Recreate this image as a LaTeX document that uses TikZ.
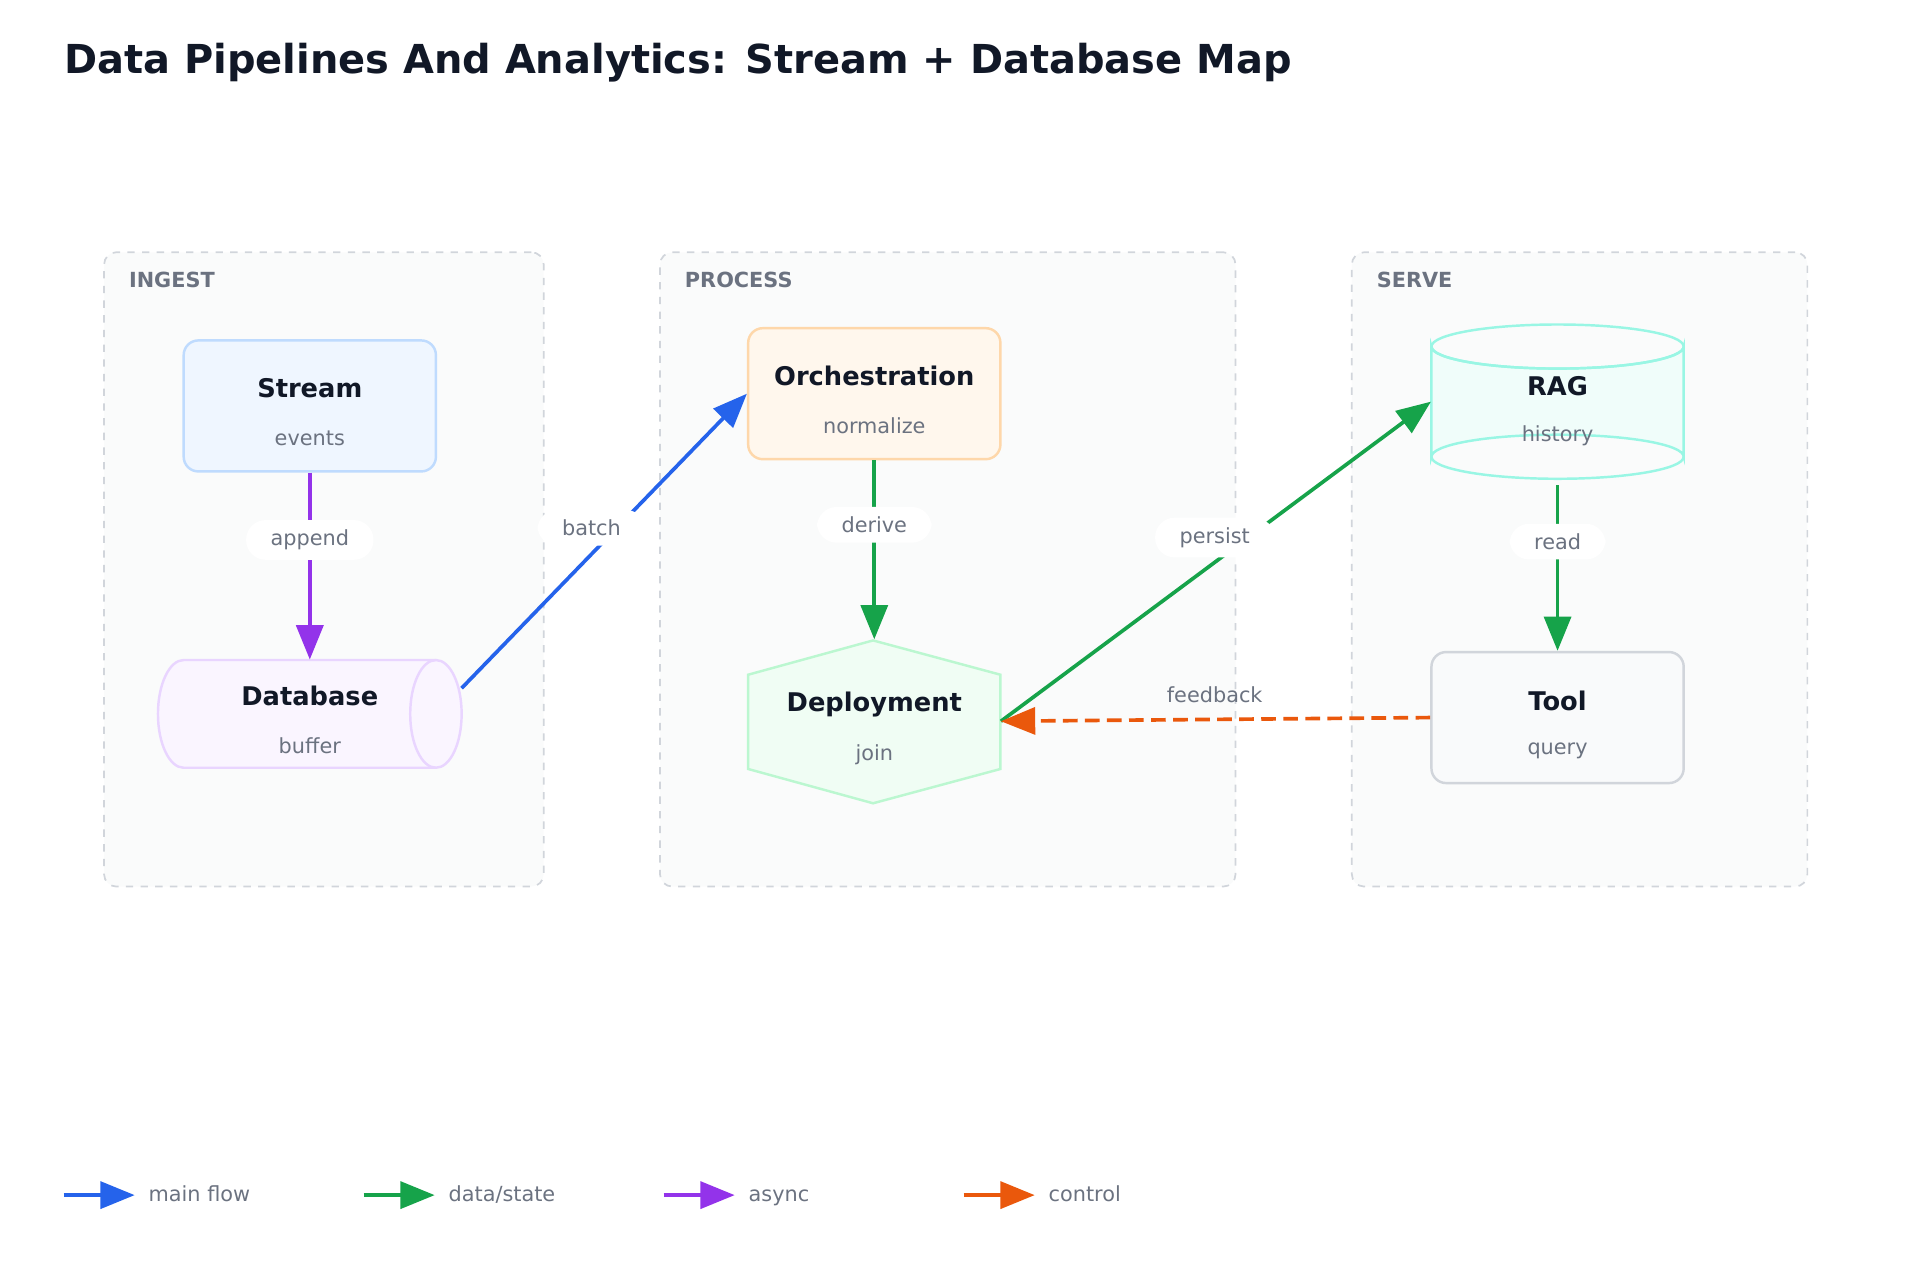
\documentclass[tikz,border=0pt]{standalone}
\usepackage{fontspec}
\setmainfont{DejaVu Sans}
\usetikzlibrary{shapes.geometric,arrows.meta,calc}
\definecolor{ink}{HTML}{111827}
\definecolor{muted}{HTML}{6B7280}
\definecolor{grpb}{HTML}{D1D5DB}
\definecolor{grpf}{HTML}{FAFBFB}
\definecolor{cblue}{HTML}{2563EB}
\definecolor{cgreen}{HTML}{16A34A}
\definecolor{cpurp}{HTML}{9333EA}
\definecolor{corange}{HTML}{EA580C}
\definecolor{sfill}{HTML}{EFF6FF}\definecolor{sdraw}{HTML}{BFDBFE}
\definecolor{dfill}{HTML}{FAF5FF}\definecolor{ddraw}{HTML}{E9D5FF}
\definecolor{ofill}{HTML}{FFF7ED}\definecolor{odraw}{HTML}{FED7AA}
\definecolor{hfill}{HTML}{F0FDF4}\definecolor{hdraw}{HTML}{BBF7D0}
\definecolor{rfill}{HTML}{F0FDFA}\definecolor{rdraw}{HTML}{99F6E4}
\definecolor{tfill}{HTML}{F9FAFB}
\tikzset{
 x=0.5pt,y=-0.5pt,
 grp/.style={draw=grpb,fill=grpf,dashed,line width=0.7pt,rounded corners=5pt},
 grplab/.style={anchor=west,inner sep=0pt,font=\bfseries\fontsize{8.5}{10}\selectfont,text=muted},
 boxn/.style={rounded corners=6pt,line width=1pt,minimum width=103pt,minimum height=53.5pt},
 ttl/.style={font=\bfseries\fontsize{10.5}{12}\selectfont,text=ink},
 sub/.style={font=\fontsize{8.5}{10}\selectfont,text=muted},
 edge/.style={line width=1.5pt,-{Triangle[length=14pt,width=11pt]}},
 elab/.style={fill=white,rounded corners=8pt,font=\fontsize{8.5}{10}\selectfont,text=muted,inner xsep=10pt,inner ysep=4pt},
 leglab/.style={anchor=west,inner sep=0pt,text height=7pt,text depth=2pt,font=\fontsize{8.5}{10}\selectfont,text=muted},
}
\begin{document}
\begin{tikzpicture}
\useasboundingbox (0,0) rectangle (1568,1045);
\node[anchor=west,inner sep=0pt,font=\bfseries\fontsize{16.3}{19}\selectfont,text=ink] (title) at (52,51) {Data Pipelines And Analytics: Stream + Database Map};
% groups
\node[grp,minimum width=179.5pt,minimum height=259pt] (gi) at (264.5,465) {};
\node[grp,minimum width=235pt,minimum height=259pt] (gp) at (774,465) {};
\node[grp,minimum width=186pt,minimum height=259pt] (gs) at (1290,465) {};
\node[grplab] (gil) at (105,229) {INGEST};
\node[grplab] (gpl) at (559,229) {PROCESS};
\node[grplab] (gsl) at (1124,229) {SERVE};
% Stream
\node[boxn,draw=sdraw,fill=sfill] (stream) at (253,331.5) {};
\node[ttl] (streamt) at (253,317) {Stream};
\node[sub] (streams) at (253,358) {events};
% Database (horizontal cylinder)
\draw[draw=ddraw,fill=dfill,line width=1pt] (356,539) -- (150,539) arc[start angle=270,end angle=90,x radius=21,y radius=44] -- (356,627) arc[start angle=90,end angle=-90,x radius=21,y radius=44] -- cycle;
\draw[draw=ddraw,line width=1pt] (356,539) arc[start angle=270,end angle=90,x radius=21,y radius=44];
\node[minimum width=124pt,minimum height=44pt,inner sep=0pt] (db) at (253,583) {};
\coordinate (dbout) at (377,562);
\node[ttl] (dbt) at (253,568) {Database};
\node[sub] (dbs) at (253,609) {buffer};
% Orchestration
\node[boxn,draw=odraw,fill=ofill] (orch) at (714,321.5) {};
\node[ttl] (orcht) at (714,307) {Orchestration};
\node[sub] (orchs) at (714,348) {normalize};
% Deployment hexagon
\draw[draw=hdraw,fill=hfill,line width=1pt] (713,523)--(817,551)--(817,628)--(713,656)--(611,628)--(611,551)--cycle;
\node[minimum width=103pt,minimum height=66.5pt,inner sep=0pt] (dep) at (714,589) {};
\node[ttl] (dept) at (714,575) {Deployment};
\node[sub] (deps) at (714,616) {join};
% RAG cylinder
\draw[draw=rdraw,fill=rfill,line width=1pt] (1169,283) -- (1169,373) arc[start angle=180,end angle=360,x radius=103,y radius=18] -- (1375,283) arc[start angle=0,end angle=180,x radius=103,y radius=18] -- cycle;
\draw[draw=rdraw,line width=1pt] (1169,283) arc[start angle=180,end angle=-180,x radius=103,y radius=18];
\draw[draw=rdraw,line width=1pt] (1169,373) arc[start angle=180,end angle=0,x radius=103,y radius=18];
\node[minimum width=103pt,minimum height=64pt,inner sep=0pt] (rag) at (1272,328) {};
\node[ttl] (ragt) at (1272,315) {RAG};
\node[sub] (rags) at (1272,356) {history};
% Tool
\node[boxn,draw=grpb,fill=tfill] (tool) at (1272,586) {};
\node[ttl] (toolt) at (1272,572) {Tool};
\node[sub] (tools) at (1272,613) {query};
% edges
\draw[edge,cpurp] (stream.south) -- (db.north) node[elab,pos=0.36] (l1) {append};
\draw[edge,cblue] (dbout) -- (orch.west);
\node[elab] (l2) at (483,431) {batch};
\draw[edge,cgreen] (orch.south) -- (dep.north) node[elab,pos=0.36] (l3) {derive};
\draw[edge,cgreen] (dep.east) -- (rag.west);
\node[elab] (l4) at (992,439) {persist};
\draw[edge,cgreen] ($(rag.south)+(0,4)$) -- (tool.north) node[elab,pos=0.34] (l5) {read};
\draw[edge,corange,dashed,dash pattern=on 6pt off 3pt] (tool.west) -- (dep.east);
\node[elab,fill=none] (l6) at (992,567) {feedback};
% legend
\foreach \x/\c/\t/\n in {52/cblue/main flow/a,297/cgreen/data\slash state/b,542/cpurp/async/c,787/corange/control/d}{
 \coordinate (ls\n) at (\x,976);
 \coordinate (le\n) at (\x+58,976);
 \draw[edge,\c] (ls\n) -- (le\n);
 \node[leglab] (lt\n) at (\x+69,976) {\t};
}
\end{tikzpicture}
\end{document}
